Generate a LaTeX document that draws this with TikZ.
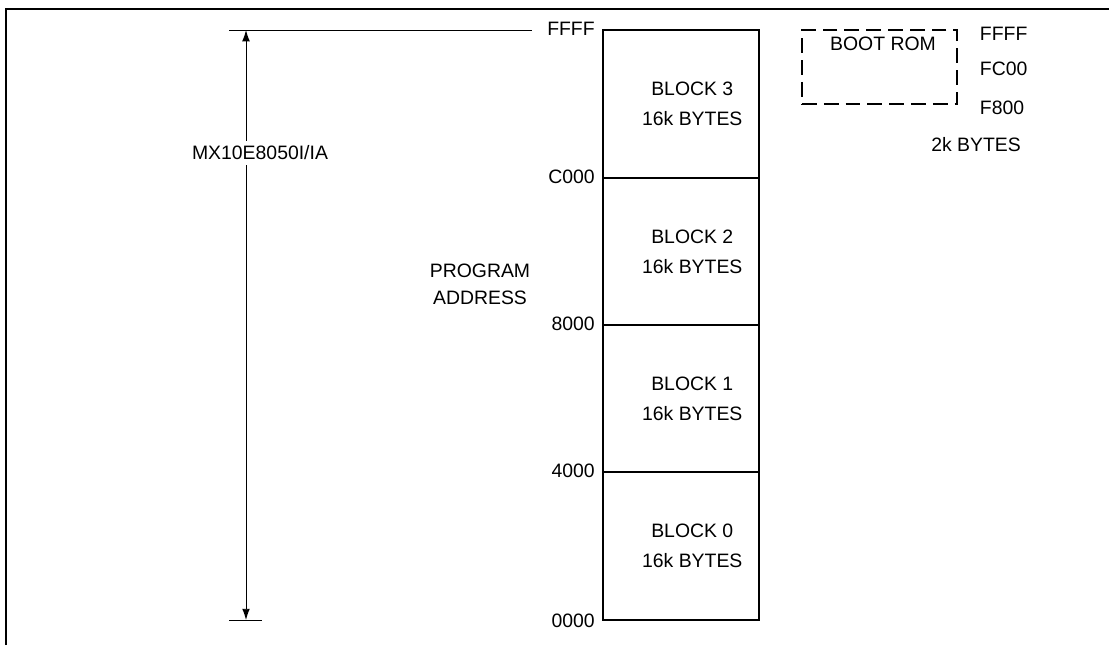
\documentclass[tikz,border=0pt]{standalone}
\usepackage{fontspec}
\setmainfont{Liberation Sans}
\usetikzlibrary{arrows.meta}
\tikzset{
  blockbox/.style={draw, line width=1.4pt, minimum width=3.9cm, minimum height=3.6875cm, inner sep=0pt},
  blocktext/.style={align=center},
  addr/.style={anchor=east, xshift=-5pt, inner sep=0pt},
  dimarrow/.style={line width=0.7pt, -{Latex[length=8pt,width=5.5pt]}},
  romdash/.style={draw, line width=1.4pt, dash pattern=on 10.5pt off 5pt, minimum width=3.875cm, minimum height=1.85cm, inner sep=0pt},
}
\begin{document}
\begin{tikzpicture}[x=0.025cm, y=-0.025cm, font=\fontsize{13.8}{21.3}\selectfont]
  \useasboundingbox (0,0) rectangle (1109,645);
  % frame
  \draw[line width=2pt] (6,645) -- (6,9) -- (1109,9);
  % memory blocks
  \foreach \i/\y in {3/104, 2/251.5, 1/398.5, 0/546}
  {
    \node[blockbox] (blk\i) at (681,\y) {};
    \node[blocktext] (txt\i) at ([xshift=8pt]blk\i.center) {BLOCK \i\\16k BYTES};
  }
  \node[addr] (aFFFF) at (blk3.north west) {FFFF};
  \node[addr] (aC000) at (blk2.north west) {C000};
  \node[addr] (a8000) at (blk1.north west) {8000};
  \node[addr] (a4000) at (blk0.north west) {4000};
  \node[addr] (a0000) at (blk0.south west) {0000};
  \node[align=center, font=\fontsize{13.8}{19.2}\selectfont] (prog) at (480,284) {PROGRAM\\ADDRESS};
  % size arrow
  \coordinate (dimtop) at (246,30);
  \coordinate (dimbot) at (246,620);
  \coordinate (extTL) at (229,30);
  \coordinate (extTR) at (532,30);
  \coordinate (extBL) at (229,620);
  \coordinate (extBR) at (262,620);
  \draw[line width=0.7pt] (extTL) -- (extTR);
  \draw[line width=0.7pt] (extBL) -- (extBR);
  \node (mxlbl) at (260,153) {MX10E8050I/IA};
  \draw[dimarrow] (mxlbl.north -| dimtop) -- (dimtop);
  \draw[dimarrow] (mxlbl.south -| dimtop) -- (dimbot);
  % boot rom
  \node[romdash] (bootrom) at (879.5,67) {};
  \node (romtxt) at (883,44) {BOOT ROM};
  \node[anchor=west] (romhi) at (975,34) {FFFF};
  \node[anchor=west] (rommid) at (975,69) {FC00};
  \node[anchor=west] (romlo) at (975,108) {F800};
  \node (romsize) at (976,145) {2k BYTES};
\end{tikzpicture}
\end{document}
